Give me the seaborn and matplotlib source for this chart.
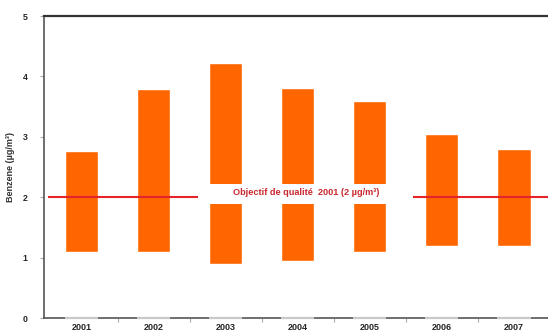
import matplotlib
matplotlib.use("Agg")
import matplotlib.pyplot as plt
from matplotlib.patches import Rectangle
import seaborn as sns
import pandas as pd

# Benzene concentrations: yearly minimum and maximum (µg/m³)
years = ["2001", "2002", "2003", "2004", "2005", "2006", "2007"]
min_values = [1.1, 1.1, 0.9, 0.95, 1.1, 1.2, 1.2]
max_values = [2.77, 3.79, 4.22, 3.8, 3.6, 3.05, 2.79]
objective = 2.0
objective_label = "Objectif de qualité  2001 (2 µg/m³)"
ylabel = "Benzene (µg/m³)"

sns.set_style("white")
plt.rcParams["font.family"] = ["Liberation Sans", "DejaVu Sans"]

df = pd.DataFrame({
    "year": years,
    "low": min_values,
    "span": [hi - lo for hi, lo in zip(max_values, min_values)],
})

fig = plt.figure(figsize=(5.48, 3.34), dpi=100)
ax = fig.add_axes([44 / 548, 16 / 334, 506 / 548, 302 / 334])

# floating bars from the yearly minimum up to the maximum
sns.barplot(data=df, x="year", y="span", bottom=df["low"].to_numpy(),
            color="#ff6600", saturation=1, width=0.46, ax=ax, zorder=1)

ax.set_ylim(0, 5)
ax.set_xlim(-0.52, 6.5)

# light base segments under each bar
for p in ax.patches:
    ax.hlines(0, p.get_x(), p.get_x() + p.get_width(), color="#c8c8c8",
              lw=1.6, zorder=3, clip_on=False)

# quality objective line with its label box
ax.hlines(objective, -0.46, 6.5, color="#e3242b", lw=1.5, zorder=2)
ax.add_patch(Rectangle((1.62, 1.89), 2.98, 0.33, facecolor="white",
                       edgecolor="none", zorder=3))
ax.text(3.12, 2.07, objective_label, color="#c8282e", fontsize=6.6,
        fontweight="bold", ha="center", va="center", zorder=4)

# axes styling
for side in ["left", "bottom"]:
    ax.spines[side].set_color("#555555")
    ax.spines[side].set_linewidth(1.2)
ax.spines["top"].set_color("#333333")
ax.spines["top"].set_linewidth(1.6)
ax.spines["right"].set_visible(False)

ax.set_yticks(range(6))
ax.set_yticklabels([str(v) for v in range(6)], fontsize=6.3, fontweight="bold")
ax.tick_params(axis="y", left=True, length=3, width=0.8, color="#aaaaaa", pad=9)

ax.set_xticks(range(len(years)))
ax.set_xticklabels(years, fontsize=6.5, fontweight="bold")
ax.tick_params(axis="x", which="major", length=0, pad=3.5)
ax.set_xticks([i + 0.5 for i in range(len(years))], minor=True)
ax.tick_params(axis="x", which="minor", bottom=True, length=3, width=0.8,
               color="#aaaaaa")

ax.set_xlabel("")
ax.set_ylabel(ylabel, fontsize=6.5, fontweight="bold", color="#333333")
ax.yaxis.set_label_coords(-0.057, 0.5)

fig.savefig("out.png", dpi=100)
